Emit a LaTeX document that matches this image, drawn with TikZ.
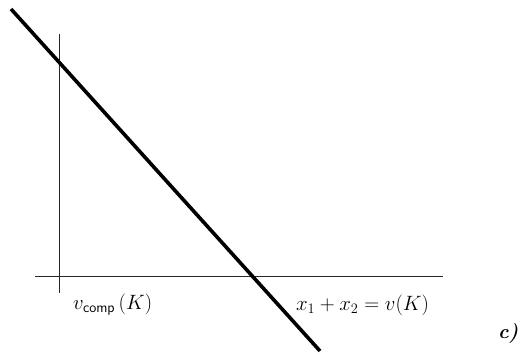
\documentclass[tikz,border=0pt]{standalone}
\begin{document}
\begin{tikzpicture}[x=1pt,y=-1pt,
  axis/.style={line width=1.2pt,black!85},
  bigline/.style={line width=3.6pt,black},
  lab/.style={inner sep=0pt,anchor=west,font=\fontsize{21.5}{24}\selectfont}]
\useasboundingbox (0,0) rectangle (520,356);
\coordinate (vtop) at (59.5,34);
\coordinate (vbot) at (59.5,293);
\coordinate (hl) at (35,276.5);
\coordinate (hr) at (443,276.5);
\coordinate (ltop) at (11,9);
\coordinate (lbot) at (320,351);
\draw[axis] (vtop) -- (vbot);
\draw[axis] (hl) -- (hr);
\draw[bigline] (ltop) -- (lbot);
\node[lab] (vc) at (73,305) {$v_{\mathsf{comp}}\,(K)$};
\node[lab,font=\fontsize{20}{24}\selectfont] (eq) at (296,305) {$x_1+x_2=v(K)$};
\node[lab,anchor=east,font=\fontsize{20}{24}\selectfont] (c) at (518.5,333) {\bfseries\itshape c)};
\end{tikzpicture}
\end{document}
